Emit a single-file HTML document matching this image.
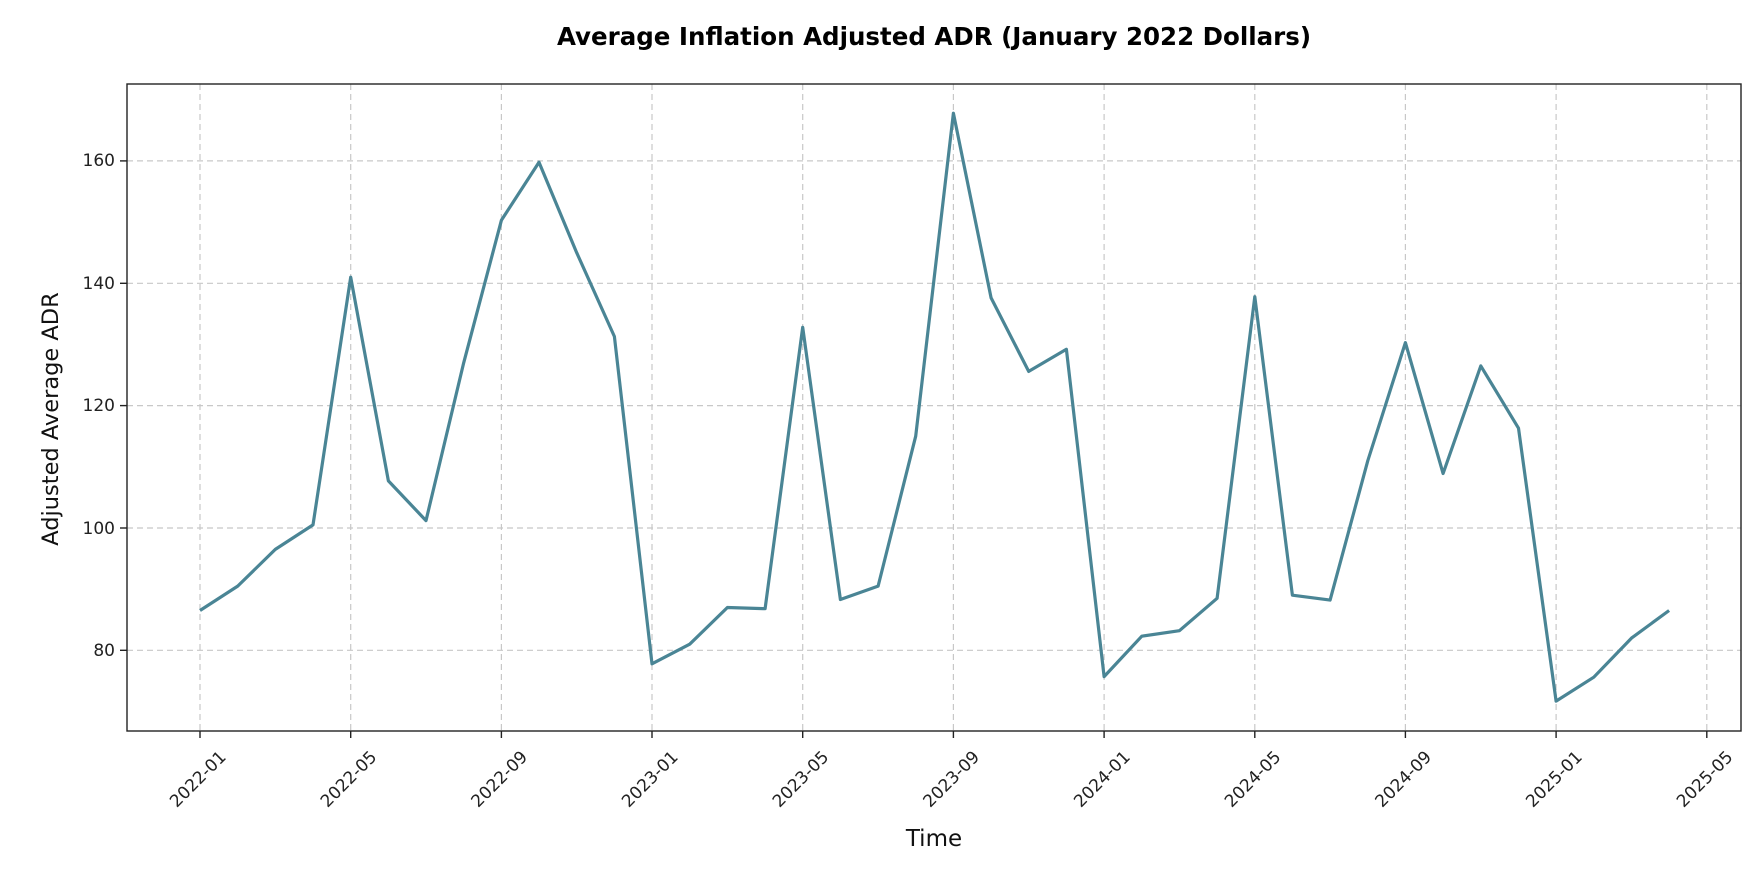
<!DOCTYPE html>
<html><head><meta charset="utf-8"><style>html,body{margin:0;padding:0;background:#fff}svg{display:block}</style></head>
<body>
<svg width="1764" height="878" xmlns="http://www.w3.org/2000/svg" font-family="'DejaVu Sans','Liberation Sans',sans-serif">
<rect width="1764" height="878" fill="#fff"/>
<text x="934" y="45" text-anchor="middle" font-size="24.5" font-weight="bold" fill="#000">Average Inflation Adjusted ADR (January 2022 Dollars)</text>
<g stroke="#c8c8c8" stroke-width="1.2" stroke-dasharray="6,4">
<line x1="200" y1="84" x2="200" y2="731"/><line x1="350.7" y1="84" x2="350.7" y2="731"/><line x1="501.4" y1="84" x2="501.4" y2="731"/><line x1="652" y1="84" x2="652" y2="731"/><line x1="802.7" y1="84" x2="802.7" y2="731"/><line x1="953.4" y1="84" x2="953.4" y2="731"/><line x1="1104.1" y1="84" x2="1104.1" y2="731"/><line x1="1254.8" y1="84" x2="1254.8" y2="731"/><line x1="1405.4" y1="84" x2="1405.4" y2="731"/><line x1="1556.1" y1="84" x2="1556.1" y2="731"/><line x1="1706.8" y1="84" x2="1706.8" y2="731"/>
<line x1="127" y1="650.3" x2="1741" y2="650.3"/><line x1="127" y1="528" x2="1741" y2="528"/><line x1="127" y1="405.6" x2="1741" y2="405.6"/><line x1="127" y1="283.3" x2="1741" y2="283.3"/><line x1="127" y1="160.9" x2="1741" y2="160.9"/>
</g>
<polyline fill="none" stroke="#4a8595" stroke-width="3.2" stroke-linejoin="round" points="200,610.5 237.7,586.1 275.3,549.4 313,524.9 350.7,277.2 388.4,480.9 426,520.6 463.7,362.8 501.4,220.3 539,162.2 576.7,252.7 614.4,336.5 652,663.8 689.7,644.2 727.4,607.5 765.1,608.7 802.7,327.3 840.4,599.5 878.1,586.1 915.7,436.2 953.4,113.2 991.1,297.9 1028.7,371.4 1066.4,349.3 1104.1,676.6 1141.8,636.2 1179.4,630.7 1217.1,598.3 1254.8,296.7 1292.4,595.2 1330.1,600.1 1367.8,460.7 1405.4,342.6 1443.1,473.5 1480.8,365.9 1518.5,428.2 1556.1,701.1 1593.8,677.2 1631.5,638.1 1669.1,610.5"/>
<rect x="127" y="84" width="1614" height="647" fill="none" stroke="#222" stroke-width="1.4"/>
<g stroke="#222" stroke-width="1.4">
<line x1="200" y1="731" x2="200" y2="738"/><line x1="350.7" y1="731" x2="350.7" y2="738"/><line x1="501.4" y1="731" x2="501.4" y2="738"/><line x1="652" y1="731" x2="652" y2="738"/><line x1="802.7" y1="731" x2="802.7" y2="738"/><line x1="953.4" y1="731" x2="953.4" y2="738"/><line x1="1104.1" y1="731" x2="1104.1" y2="738"/><line x1="1254.8" y1="731" x2="1254.8" y2="738"/><line x1="1405.4" y1="731" x2="1405.4" y2="738"/><line x1="1556.1" y1="731" x2="1556.1" y2="738"/><line x1="1706.8" y1="731" x2="1706.8" y2="738"/>
<line x1="120" y1="650.3" x2="127" y2="650.3"/><line x1="120" y1="528" x2="127" y2="528"/><line x1="120" y1="405.6" x2="127" y2="405.6"/><line x1="120" y1="283.3" x2="127" y2="283.3"/><line x1="120" y1="160.9" x2="127" y2="160.9"/>
</g>
<g font-size="17" fill="#222" text-anchor="end">
<text x="115" y="656">80</text><text x="115" y="534">100</text><text x="115" y="411">120</text><text x="115" y="289">140</text><text x="115" y="166">160</text>
<text transform="translate(227,758) rotate(-45)">2022-01</text>
<text transform="translate(377.7,758) rotate(-45)">2022-05</text>
<text transform="translate(528.4,758) rotate(-45)">2022-09</text>
<text transform="translate(679,758) rotate(-45)">2023-01</text>
<text transform="translate(829.7,758) rotate(-45)">2023-05</text>
<text transform="translate(980.4,758) rotate(-45)">2023-09</text>
<text transform="translate(1131.1,758) rotate(-45)">2024-01</text>
<text transform="translate(1281.8,758) rotate(-45)">2024-05</text>
<text transform="translate(1432.4,758) rotate(-45)">2024-09</text>
<text transform="translate(1583.1,758) rotate(-45)">2025-01</text>
<text transform="translate(1733.8,758) rotate(-45)">2025-05</text>
</g>
<text x="934" y="846" text-anchor="middle" font-size="23" fill="#111">Time</text>
<text transform="translate(58,419) rotate(-90)" text-anchor="middle" font-size="22.5" fill="#111">Adjusted Average ADR</text>
</svg>
</body></html>
